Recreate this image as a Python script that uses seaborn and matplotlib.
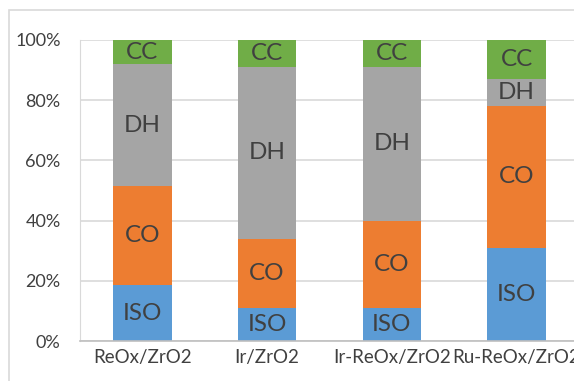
import pandas as pd
import seaborn as sns
import matplotlib.pyplot as plt
import numpy as np
from matplotlib.patches import Rectangle

# Datos (porcentajes por catalizador)
catalizadores = ['ReOx/ZrO2', 'Ir/ZrO2', 'Ir-ReOx/ZrO2', 'Ru-ReOx/ZrO2']
productos = ['ISO', 'CO', 'DH', 'CC']
iso = [18.5, 11, 11, 31]
co = [33, 23, 29, 47]
dh = [40.5, 57, 51, 9]
cc = [8, 9, 9, 13]
colores = ['#5B9BD5', '#ED7D31', '#A5A5A5', '#70AD47']

sns.set_style('white')
plt.rcParams['font.family'] = ['Lato', 'DejaVu Sans']

valores = np.array([iso, co, dh, cc])
acumulado = valores.cumsum(axis=0)

W, H = 574, 381
fig = plt.figure(figsize=(W / 100, H / 100), dpi=100)
ax = fig.add_axes([80 / W, (H - 341) / H, (579 - 80) / W, (341 - 40) / H])

# marco exterior del grafico
fig.add_artist(Rectangle((9 / W, -0.1), 1.2, (H - 10) / H + 0.1, transform=fig.transFigure,
                         fill=False, edgecolor='#D9D9D9', linewidth=1.2))

# barras apiladas: se dibuja desde el total hacia abajo
for i in range(len(productos) - 1, -1, -1):
    df = pd.DataFrame({'cat': catalizadores, 'val': acumulado[i]})
    sns.barplot(data=df, x='cat', y='val', color=colores[i], width=0.47,
                saturation=1, ax=ax, linewidth=0)

# etiquetas dentro de cada segmento
for j in range(len(catalizadores)):
    for i, prod in enumerate(productos):
        centro = acumulado[i][j] - valores[i][j] / 2
        ax.text(j, centro, prod, ha='center', va='center', fontsize=17.5, color='#404040')

ax.set_ylim(0, 100)
ax.set_xlim(-0.5, 3.5)
ax.set_yticks(range(0, 101, 20))
ax.set_yticklabels([f'{v}%' for v in range(0, 101, 20)])
ax.yaxis.grid(True, color='#D9D9D9', linewidth=1.2)
ax.set_axisbelow(True)
ax.set_xlabel('')
ax.set_ylabel('')
for s in ['top', 'right']:
    ax.spines[s].set_visible(False)
ax.spines['left'].set_color('#D9D9D9')
ax.spines['bottom'].set_color('#BFBFBF')
ax.spines['bottom'].set_linewidth(1.2)
ax.tick_params(axis='y', length=0, labelsize=13, labelcolor='#404040', pad=14)
ax.tick_params(axis='x', length=0, labelsize=13.5, labelcolor='#404040', pad=6)

fig.savefig('out.png', dpi=100)
